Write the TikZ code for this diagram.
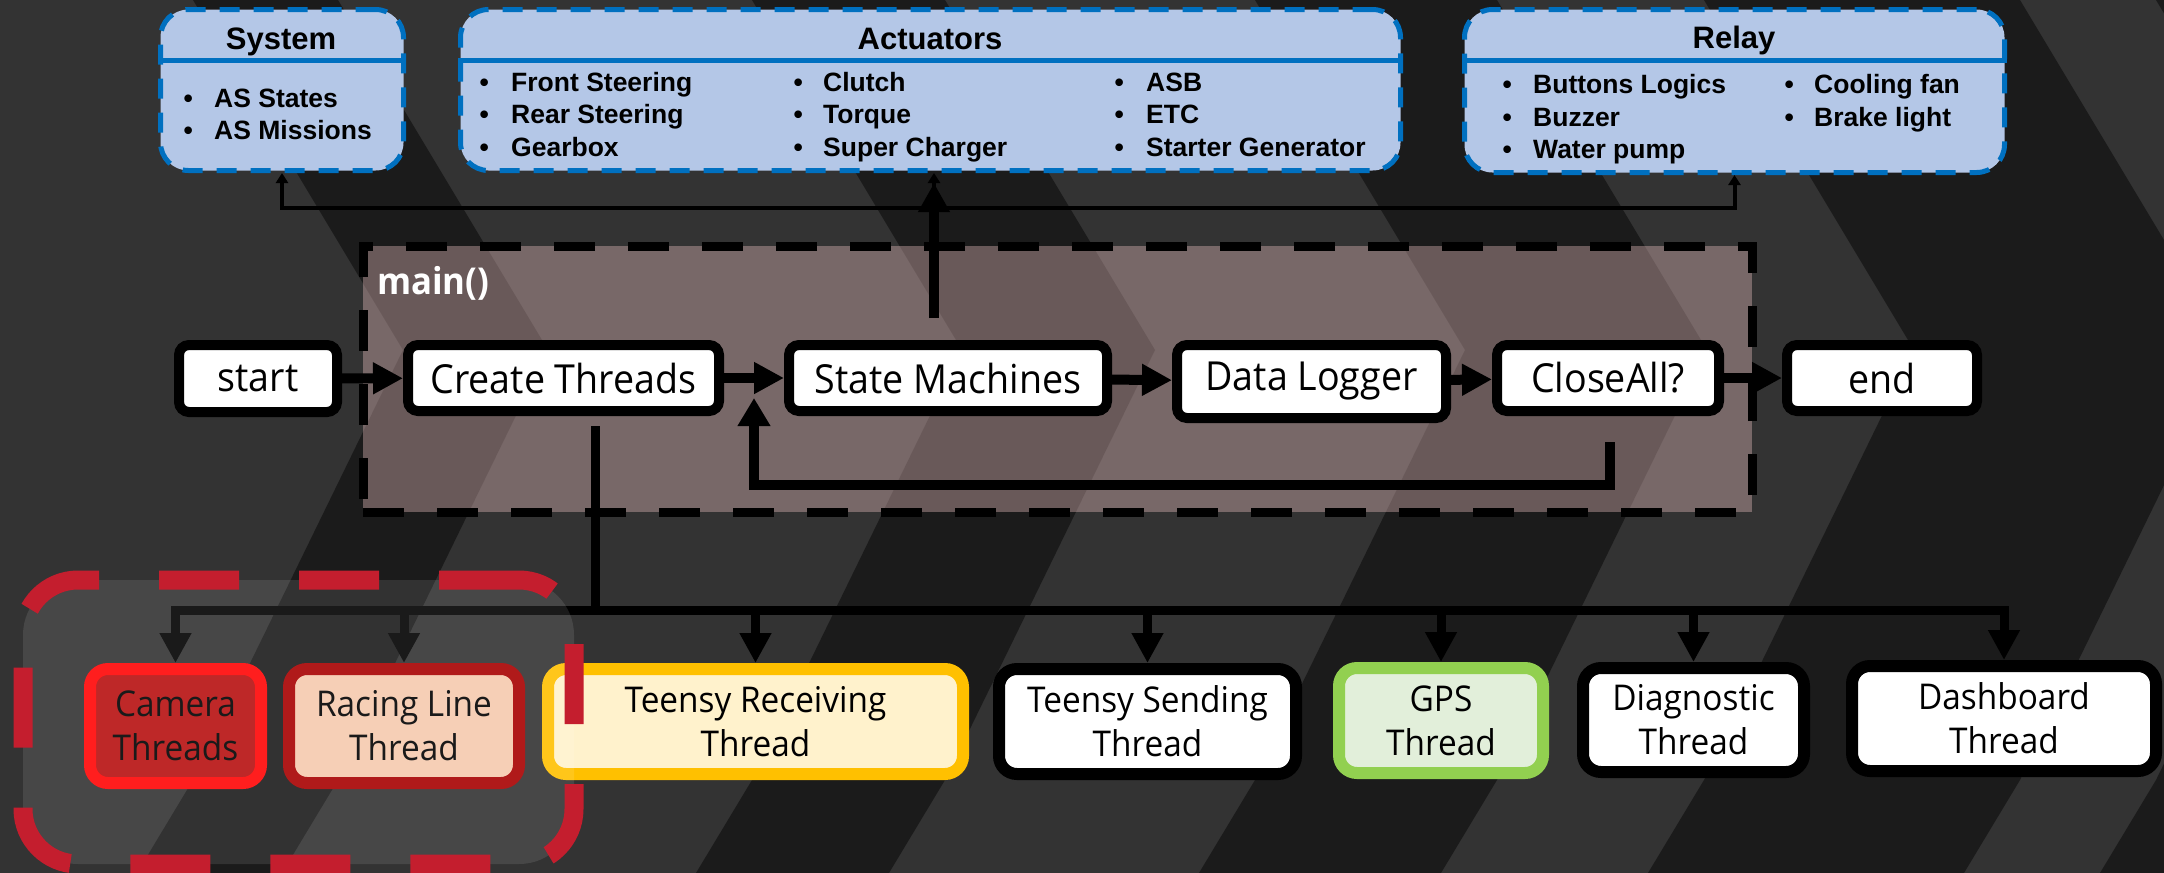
\documentclass[tikz,border=0pt]{standalone}
\usepackage{fontspec}
\setmainfont{Liberation Sans}
\newfontfamily\flowfont{Open Sans}
\newfontfamily\flowfontc[FakeStretch=0.94]{Open Sans}
\usetikzlibrary{arrows.meta}
\definecolor{bglight}{RGB}{51,51,51}
\definecolor{bgdark}{RGB}{27,27,27}
\definecolor{boxblue}{RGB}{180,199,231}
\definecolor{edgeblue}{RGB}{0,112,192}
\definecolor{mainfill}{RGB}{224,184,184}
\definecolor{camborder}{RGB}{255,5,5}
\definecolor{camfill}{RGB}{183,16,16}
\definecolor{raceborder}{RGB}{168,0,0}
\definecolor{racefill}{RGB}{246,202,174}
\definecolor{goldborder}{RGB}{255,192,0}
\definecolor{goldfill}{RGB}{255,242,204}
\definecolor{greenborder}{RGB}{146,208,80}
\definecolor{greenfill}{RGB}{226,239,218}
\definecolor{groupred}{RGB}{196,30,46}
\begin{document}
\begin{tikzpicture}[x=1pt,y=-1pt,
  flownode/.style={draw=black, line width=10pt, fill=white, rounded corners=10pt, inner sep=0pt, font=\flowfontc\fontsize{40}{46}\selectfont},
  threadnode/.style={line width=12pt, rounded corners=18pt, inner sep=0pt, align=center, font=\flowfontc\fontsize{35.5}{44}\selectfont},
  bluebox/.style={draw=edgeblue, fill=boxblue, line width=5pt, dash pattern=on 20pt off 14pt, rounded corners=28pt, inner sep=0pt},
  boxtitle/.style={inner sep=0pt, anchor=base, font=\bfseries\fontsize{31}{36}\selectfont},
  boxitem/.style={inner sep=0pt, anchor=base west, font=\bfseries\fontsize{26.5}{32}\selectfont},
  flowarrow/.style={line width=10pt, -{Triangle[length=30pt,width=30pt]}},
  busline/.style={line width=9pt},
  busarrow/.style={line width=9pt, -{Triangle[length=30pt,width=30pt]}},
  thinarrow/.style={line width=4pt, -{Triangle[length=10pt,width=12pt]}},
  headline/.style={draw=edgeblue, line width=5pt}
]
\useasboundingbox (0,0) rectangle (2164,873);
% background
\fill[bglight] (0,0) rectangle (2164,873);
\begin{scope}
\clip (0,0) rectangle (2164,873);
\foreach \a/\b in {297/442, 856/1049, 1359/1601, 1808/2124, 2260/2600} {
  \fill[bgdark] (\a-104,0) -- (\a+106,350) -- (\a-104,780) -- (\a-160,873) -- (\b-160,873) -- (\b-104,780) -- (\b+106,350) -- (\b-104,0) -- cycle;
}
\end{scope}

% main box
\node[draw=black, fill=mainfill, fill opacity=0.4, draw opacity=1, line width=9pt, dash pattern=on 41pt off 33pt, minimum width=1389pt, minimum height=266pt, inner sep=0pt] (mainbox) at (1057.5,379) {};
\node[text=white, anchor=west, inner sep=0pt, font=\flowfontc\bfseries\fontsize{37}{42}\selectfont] (mainlbl) at (377,283) {main()};

% top boxes
\coordinate (hline) at (0,60);
\node[bluebox, minimum width=243pt, minimum height=161pt] (sys) at (282,90) {};
\node[bluebox, minimum width=940pt, minimum height=161pt] (act) at (930.5,90) {};
\node[bluebox, minimum width=540pt, minimum height=163pt] (rel) at (1734.5,91) {};
\draw[headline] (sys.west |- hline) -- (sys.east |- hline);
\draw[headline] (act.west |- hline) -- (act.east |- hline);
\draw[headline] (rel.west |- hline) -- (rel.east |- hline);

\node[boxtitle] (systitle) at (281,49.5) {System};
\node[boxtitle] (acttitle) at (930,49.5) {Actuators};
\node[boxtitle] (reltitle) at (1734,48.5) {Relay};

\node[boxitem] (sys1) at (183.5,107) {\makebox[30.5pt][l]{\textbullet}AS States};
\node[boxitem] (sys2) at (183.5,139) {\makebox[30.5pt][l]{\textbullet}AS Missions};

\node[boxitem] (act1) at (479.5,91) {\makebox[31.5pt][l]{\textbullet}Front Steering};
\node[boxitem] (act2) at (479.5,123) {\makebox[31.5pt][l]{\textbullet}Rear Steering};
\node[boxitem] (act3) at (479.5,156) {\makebox[31.5pt][l]{\textbullet}Gearbox};
\node[boxitem] (act4) at (793.5,91) {\makebox[29.5pt][l]{\textbullet}Clutch};
\node[boxitem] (act5) at (793.5,123) {\makebox[29.5pt][l]{\textbullet}Torque};
\node[boxitem] (act6) at (793.5,156) {\makebox[29.5pt][l]{\textbullet}Super Charger};
\node[boxitem] (act7) at (1114.5,91) {\makebox[31.5pt][l]{\textbullet}ASB};
\node[boxitem] (act8) at (1114.5,123) {\makebox[31.5pt][l]{\textbullet}ETC};
\node[boxitem] (act9) at (1114.5,156) {\makebox[31.5pt][l]{\textbullet}Starter Generator};

\node[boxitem] (rel1) at (1502.5,93) {\makebox[30.5pt][l]{\textbullet}Buttons Logics};
\node[boxitem] (rel2) at (1502.5,126) {\makebox[30.5pt][l]{\textbullet}Buzzer};
\node[boxitem] (rel3) at (1502.5,158) {\makebox[30.5pt][l]{\textbullet}Water pump};
\node[boxitem] (rel4) at (1784.5,93) {\makebox[29.5pt][l]{\textbullet}Cooling fan};
\node[boxitem] (rel5) at (1784.5,126) {\makebox[29.5pt][l]{\textbullet}Brake light};

% flow nodes
\node[flownode, minimum width=158pt, minimum height=67pt] (st) at (258,378.5) {start};
\node[flownode, minimum width=311pt, minimum height=66pt] (ct) at (563.5,378) {Create Threads};
\node[flownode, minimum width=318pt, minimum height=66pt] (sm) at (948,378) {State Machines};
\node[flownode, minimum width=269pt, minimum height=73pt] (dl) at (1311.5,381.5) {Data Logger};
\node[flownode, minimum width=222pt, minimum height=66pt] (ca) at (1608,378) {CloseAll?};
\node[flownode, minimum width=190pt, minimum height=66pt] (en) at (1882,378) {end};

\draw[flowarrow] (st) -- (ct);
\draw[flowarrow] (ct) -- (sm);
\draw[flowarrow] (sm) -- (dl);
\draw[flowarrow] (dl) -- (ca);
\draw[flowarrow] (ca) -- (en);

% feedback loop
\coordinate (fbtop) at (1610,442);
\coordinate (fbcorner) at (754,485);
\coordinate (fbtip) at (754,398);
\draw[line width=10pt, -{Triangle[length=28pt,width=31pt]}] (fbtop) |- (fbcorner) -- (fbtip);

% up arrow to actuators and thin branches
\coordinate (smup) at (934,318);
\coordinate (acttip) at (934,183);
\coordinate (br) at (934,208);
\draw[thinarrow] (br) -| (sys.south);
\draw[thinarrow] (br) -| (rel.south);
\draw[thinarrow] (br) -- (br |- act.south);
\draw[line width=10pt, -{Triangle[length=29pt,width=30pt]}] (smup) -- (acttip);

% thread nodes
\node[threadnode, draw=camborder, fill=camfill, minimum width=171pt, minimum height=114pt] (cam) at (175.5,726) {Camera\\Threads};
\node[threadnode, draw=raceborder, fill=racefill, minimum width=230pt, minimum height=114pt] (rac) at (404,726) {Racing Line\\Thread};
\node[threadnode, draw=goldborder, fill=goldfill, minimum width=415pt, minimum height=105pt] (trx) at (755.5,721.5) {Teensy Receiving\\Thread};
\node[threadnode, draw=black, fill=white, minimum width=297pt, minimum height=105pt] (ttx) at (1147.5,721.5) {Teensy Sending\\Thread};
\node[threadnode, draw=greenborder, fill=greenfill, minimum width=204pt, minimum height=105pt] (gps) at (1441,720.5) {GPS\\Thread};
\node[threadnode, draw=black, fill=white, minimum width=221pt, minimum height=104pt] (dia) at (1693.5,720) {Diagnostic\\Thread};
\node[threadnode, draw=black, fill=white, minimum width=304pt, minimum height=105pt] (dsh) at (2004,718.5) {Dashboard\\Thread};

% bus
\coordinate (ctd) at (595,426);
\coordinate (busj) at (595,610);
\draw[busline] (ctd) -- (busj);
\draw[busarrow] (busj) -| (cam);
\draw[busarrow] (busj) -| (rac);
\draw[busarrow] (busj) -| (trx);
\draw[busarrow] (busj) -| (ttx);
\draw[busarrow] (busj) -| (gps);
\draw[busarrow] (busj) -| (dia);
\draw[busarrow] (busj) -| (dsh);

% group overlay
\node[draw=groupred, fill=white, fill opacity=0.1, draw opacity=1, line width=19pt, dash pattern=on 80pt off 60pt, rounded corners=55pt, minimum width=551pt, minimum height=284pt, inner sep=0pt] (grp) at (298.5,722) {};
\end{tikzpicture}
\end{document}
